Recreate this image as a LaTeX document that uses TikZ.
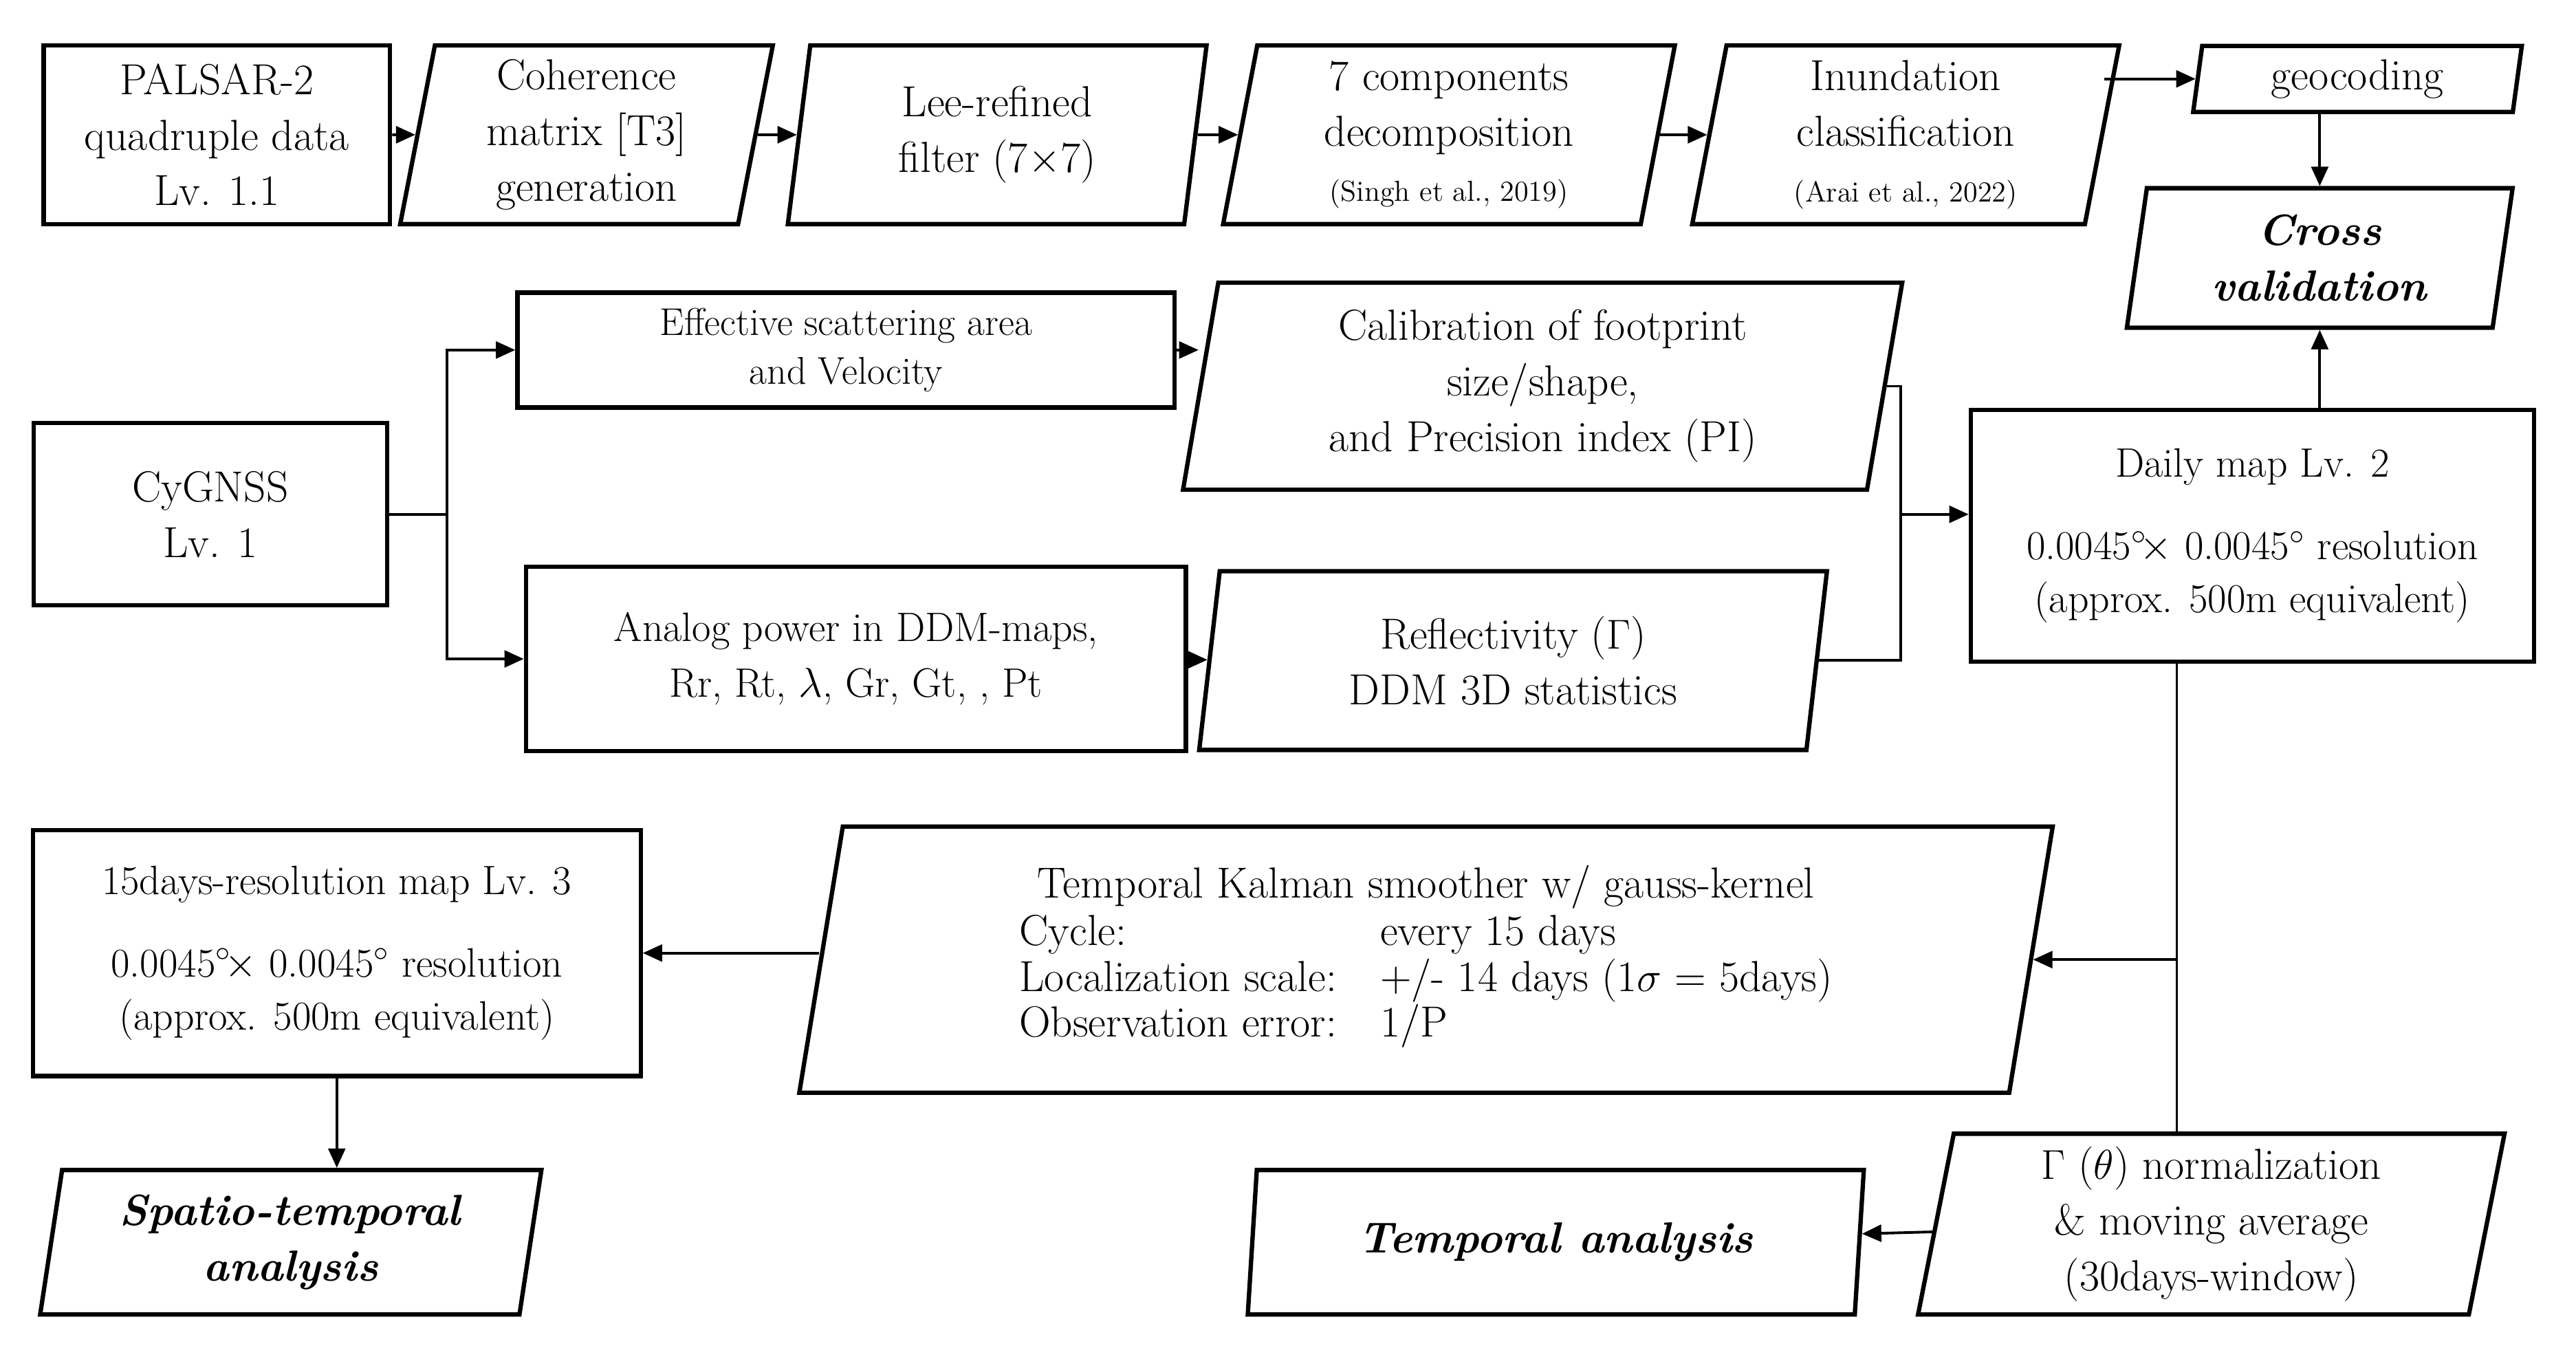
\documentclass[tikz,border=0pt]{standalone}
\usepackage{amsmath, amssymb}
\usepackage{tikz}
\usetikzlibrary{shapes.geometric, arrows.meta}

\begin{document}
\begin{tikzpicture}[x=0.02389cm, y=-0.02389cm, thick, font=\fontsize{18}{23}\selectfont,
		box/.style = {draw, line width=1.8pt, align=center, inner sep=0pt},
		para/.style = {box, trapezium, trapezium left angle=77, trapezium right angle=103, trapezium stretches body},
		arr/.style = {-{Triangle[length=8pt, width=7pt]}, line width=1.1pt},
		ln/.style = {line width=1.1pt}]
		\useasboundingbox (0,0) rectangle (1568,819);
		\node[box, minimum width=5.04cm, minimum height=2.60cm] (palsar) at (132,82) {PALSAR-2\\quadruple data\\Lv. 1.1};
		\node[para, minimum width=5.42cm, minimum height=2.60cm] (coh) at (357,82) {Coherence\\matrix [T3]\\generation};
		\node[para, minimum width=6.09cm, minimum height=2.60cm] (lee) at (607,82) {Lee-refined\\filter (7$\times$7)};
		\node[para, minimum width=6.57cm, minimum height=2.60cm] (seven) at (882,82) {7 components\\decomposition\\{\fontsize{12}{15}\selectfont (Singh et al., 2019)}};
		\node[para, minimum width=6.21cm, minimum height=2.60cm] (inun) at (1160,82) {Inundation\\classification\\{\fontsize{12}{15}\selectfont (Arai et al., 2022)}};
		\node[para, minimum width=4.78cm, minimum height=0.96cm] (geo) at (1435,48) {geocoding};
		\node[para, minimum width=5.61cm, minimum height=2.03cm] (cross) at (1412,157) {\textbf{\textit{Cross}}\\\textbf{\textit{validation}}};
		
		\node[box, minimum width=5.14cm, minimum height=2.65cm] (cyg) at (128,313) {CyGNSS\\Lv. 1};
		\node[box, minimum width=9.56cm, minimum height=1.67cm, font=\fontsize{16}{20}\selectfont] (eff) at (515,213) {Effective scattering area\\and Velocity};
		\node[para, minimum width=10.46cm, minimum height=3.01cm] (cal) at (939,235) {Calibration of footprint\\size/shape,\\and Precision index (PI)};
		\node[box, minimum width=9.60cm, minimum height=2.68cm, font=\fontsize{17}{23}\selectfont] (ana) at (521,401) {Analog power in DDM-maps,\\Rr, Rt, $\lambda$, Gr, Gt, , Pt};
		\node[para, minimum width=9.13cm, minimum height=2.60cm] (refl) at (921,402) {Reflectivity ($\Gamma$)\\DDM 3D statistics};
		\node[box, minimum width=8.19cm, minimum height=3.66cm, font=\fontsize{17}{22}\selectfont] (daily) at (1371,326) {Daily map Lv. 2\\[12pt]0.0045$^{\circ}\!\times$ 0.0045$^{\circ}$ resolution\\(approx. 500m equivalent)};
		
		\node[para, minimum width=18.23cm, minimum height=3.87cm] (kal) at (868,584) {Temporal Kalman smoother w/ gauss-kernel\\[-2pt]
			\begin{tabular}{@{}l@{\hspace{18pt}}l@{}}
				Cycle: & every 15 days\\[-4pt]
				Localization scale: & +/- 14 days (1$\sigma$ = 5days)\\[-4pt]
				Observation error: & 1/P
			\end{tabular}};
		\node[box, minimum width=8.84cm, minimum height=3.58cm, font=\fontsize{17}{22}\selectfont] (map) at (205,580) {15days-resolution map Lv. 3\\[12pt]0.0045$^{\circ}\!\times$ 0.0045$^{\circ}$ resolution\\(approx. 500m equivalent)};
		\node[para, minimum width=7.29cm, minimum height=2.10cm] (spat) at (177,756) {\textbf{\textit{Spatio-temporal}}\\\textbf{\textit{analysis}}};
		\node[para, minimum width=8.96cm, minimum height=2.10cm] (temp) at (947,756) {\textbf{\textit{Temporal analysis}}};
		\node[para, minimum width=8.53cm, minimum height=2.63cm] (norm) at (1346,745) {$\Gamma$ ($\theta$) normalization\\\& moving average\\(30days-window)};
		
		\coordinate (b) at (272,313);
		\coordinate (m) at (1157,313);
		\coordinate (dd) at (1325,403);
		
		\draw[arr] (palsar) -- (coh);
		\draw[arr] (coh) -- (lee);
		\draw[arr] (lee) -- (seven);
		\draw[arr] (seven) -- (inun);
		\draw[arr] (inun.east |- geo.west) -- (geo.west);
		\draw[arr] (geo.south -| cross.north) -- (cross.north);
		\draw[ln] (cyg.east) -- (b);
		\draw[arr] (b) |- (eff.west);
		\draw[arr] (b) |- (ana.west);
		\draw[arr] (eff) -- (eff.east -| cal.west);
		\draw[arr] (ana) -- (refl);
		\draw[ln] (cal.east) -| (m);
		\draw[ln] (refl.east) -| (m);
		\draw[arr] (m) -- (m -| daily.west);
		\draw[arr] (daily.north -| cross.south) -- (cross.south);
		\draw[ln] (dd) -- (norm.north -| dd);
		\draw[arr] (dd |- kal.east) -- (kal.east);
		\draw[arr] (kal.west |- map.east) -- (map.east);
		\draw[arr] (map) -- (map.south |- spat.north);
		\draw[arr] (norm) -- (temp);
	\end{tikzpicture}
\end{document}
